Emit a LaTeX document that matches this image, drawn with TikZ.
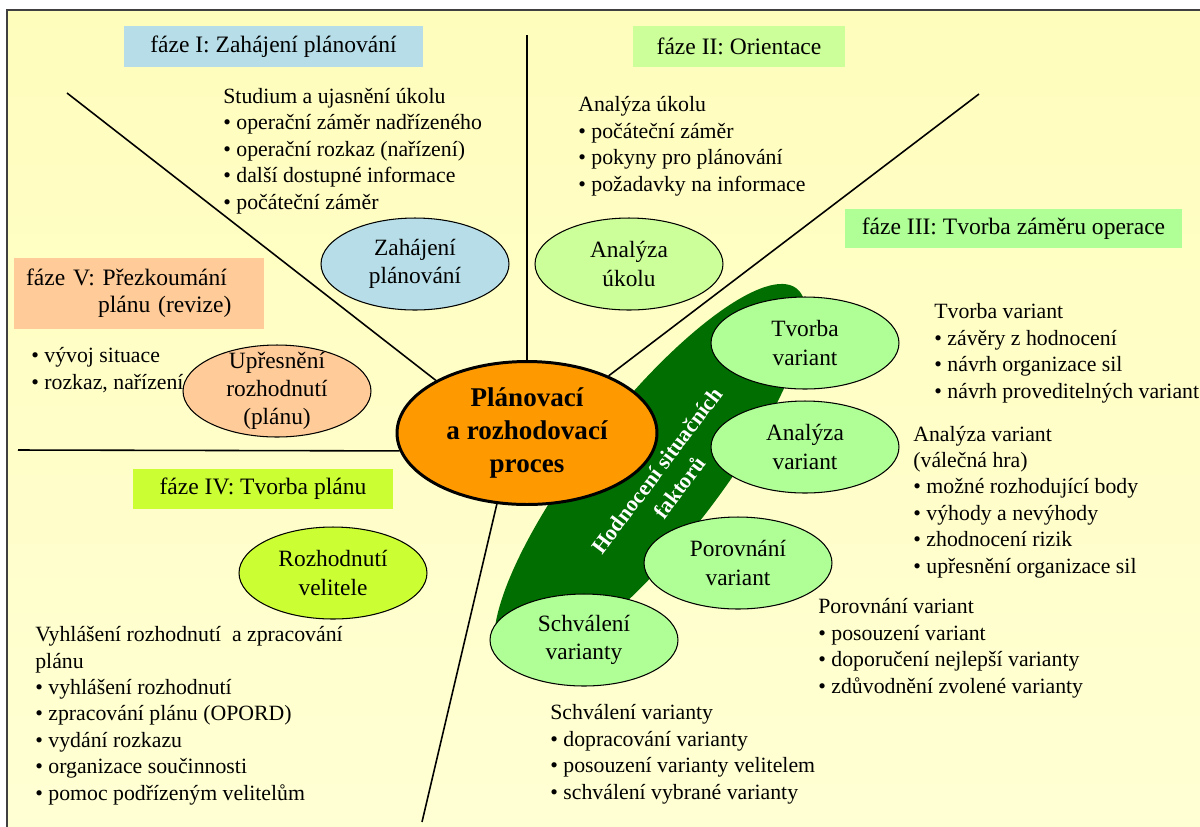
\documentclass[tikz,border=0pt]{standalone}
\usepackage{fontspec}
\setmainfont{Liberation Serif}
\usetikzlibrary{shapes.geometric}
\definecolor{bgtop}{RGB}{255,253,188}
\definecolor{bgbot}{RGB}{255,255,212}
\definecolor{phblue}{RGB}{183,222,232}
\definecolor{phgreen}{RGB}{204,255,153}
\definecolor{vargreen}{RGB}{176,255,150}
\definecolor{phpeach}{RGB}{255,204,153}
\definecolor{phlime}{RGB}{204,255,51}
\definecolor{cenorange}{RGB}{255,153,0}
\definecolor{banddark}{RGB}{0,110,0}
\newcommand{\listfont}{\fontsize{12.4}{15}\selectfont}
\newcommand{\phasefont}{\fontsize{13.4}{15.5}\selectfont}
\newcommand{\ellfont}{\fontsize{13.3}{16}\selectfont}
\newcommand{\cenfont}{\fontsize{15.4}{18.7}\selectfont\bfseries}
\newcommand{\bandfont}{\fontsize{12.5}{16}\selectfont\bfseries}

\begin{document}
\begin{tikzpicture}
[x=0.02cm, y=-0.02cm,
 lin/.style={line width=0.9pt},
 ell/.style={ellipse, draw, line width=0.6pt, minimum width=3.76cm, minimum height=1.84cm,
   inner sep=0pt, align=center, font=\ellfont},
 phase/.style={rectangle, inner sep=0pt, align=center, font=\phasefont},
 list/.style={anchor=base west, align=left, inner sep=0pt, font=\listfont}]
\useasboundingbox (0,0) rectangle (1200,826);
\clip (0,0) rectangle (1200,826);
\shade[top color=bgtop, bottom color=bgbot] (7,10) rectangle (1210,836); %% background
\draw[line width=1pt, black!75] (7,836) -- (7,10) -- (1210,10); %% frame
%%
\node[phase, fill=phblue, minimum width=5.98cm, minimum height=0.82cm] (f1) at (273.5,46.5) {fáze I: Zahájení plánování};
\node[phase, fill=phgreen, minimum width=4.24cm, minimum height=0.82cm] (f2) at (739,46.5) {fáze II: Orientace};
\node[phase, fill=vargreen, minimum width=6.74cm, minimum height=0.78cm] (f3) at (1013.5,228.5) {fáze III: Tvorba záměru operace};
\node[phase, fill=phlime, minimum width=5.2cm, minimum height=0.8cm] (f4) at (263,489) {fáze IV: Tvorba plánu};
\node[phase, fill=phpeach, minimum width=5cm, minimum height=1.42cm, align=left,
  text width=4.52cm, inner xsep=0.24cm] (f5) at (139,293.5) {fáze V: Přezkoumání\\\hspace*{1.44cm}plánu (revize)};
%% text blocks, placed at the baseline of their last line
\node[list] (t1) at (223,209) {Studium a ujasnění úkolu\\• operační záměr nadřízeného\\• operační rozkaz (nařízení)\\• další dostupné informace\\• počáteční záměr};
\node[list] (t2) at (578,191) {Analýza úkolu\\• počáteční záměr\\• pokyny pro plánování\\• požadavky na informace};
\node[list] (t3) at (934,398) {Tvorba variant\\• závěry z hodnocení\\• návrh organizace sil\\• návrh proveditelných variant};
\node[list] (t4) at (913,573) {Analýza variant\\(válečná hra)\\• možné rozhodující body\\• výhody a nevýhody\\• zhodnocení rizik\\• upřesnění organizace sil};
\node[list] (t5) at (818,693) {Porovnání variant\\• posouzení variant\\• doporučení nejlepší varianty\\• zdůvodnění zvolené varianty};
\node[list] (t6) at (550,799) {Schválení varianty\\• dopracování varianty\\• posouzení varianty velitelem\\• schválení vybrané varianty};
\node[list] (t7) at (35,800) {Vyhlášení rozhodnutí~ a zpracování\\plánu\\• vyhlášení rozhodnutí\\• zpracování plánu (OPORD)\\• vydání rozkazu\\• organizace součinnosti\\• pomoc podřízeným velitelům};
\node[list] (t8) at (31,389) {• vývoj situace\\• rozkaz, nařízení};
%%
\fill[banddark, rotate around={52:(650,476)}] (650,476) ellipse (238 and 67); %% band
\node[font=\bandfont, text=white, align=center, rotate=53] (band) at (668,479) {Hodnocení situačních\\faktorů};
%%
\node[ell, fill=phblue] (zah) at (415,264) {Zahájení\\plánování};
\node[ell, fill=phgreen] (anu) at (629,264) {Analýza\\úkolu};
\node[ell, fill=phpeach, inner ysep=-8pt] (upr) at (277,391) {Upřesnění\\rozhodnutí\\(plánu)};
\node[ell, fill=phlime] (roz) at (333,573) {Rozhodnutí\\velitele};
\node[ell, fill=vargreen] (tvo) at (805,343) {Tvorba\\variant};
\node[ell, fill=vargreen] (anv) at (805,447) {Analýza\\variant};
\node[ell, fill=vargreen] (por) at (738,563) {Porovnání\\variant};
\node[ell, fill=vargreen] (sch) at (584,640) {Schválení\\varianty};
\node[ellipse, draw, fill=cenorange, line width=1.7pt, minimum width=5.2cm, minimum height=2.86cm,
  inner sep=0pt, align=center, font=\cenfont] (cen) at (527,433) {Plánovací\\a rozhodovací\\proces};
%%
\coordinate (la) at (67,93);
\coordinate (lb) at (527,35);
\coordinate (lc) at (979,94);
\coordinate (ld) at (18,450);
\coordinate (le) at (422,822);
\draw[lin] (la) -- (cen.150);
\draw[lin] (lb) -- (cen.north);
\draw[lin] (lc) -- (cen.35);
\draw[lin] (ld) -- (cen.188);
\draw[lin] (le) -- (cen.247);
\end{tikzpicture}
\end{document}
